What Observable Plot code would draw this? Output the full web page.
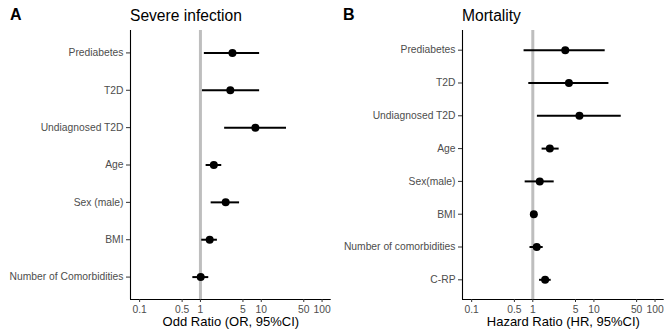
<!DOCTYPE html>
<html>
<head>
<meta charset="utf-8">
<script src="https://cdn.jsdelivr.net/npm/d3@7"></script>
<script src="https://cdn.jsdelivr.net/npm/@observablehq/plot@0.6"></script>
<style>
  body { margin: 0; background: #fff; font-family: "Liberation Sans", Arial, sans-serif; }
  #wrap { display: flex; width: 665px; height: 333px; }
  .panel { position: relative; }
  .hdr { position: relative; height: 30px; }
  .tag { position: absolute; font-weight: bold; font-size: 16px; line-height: 1; top: 7px; left: 10px; color: #000; }
  .ttl { position: absolute; font-size: 15.6px; line-height: 1; top: 7.7px; color: #000; }
  svg { display: block; }
</style>
</head>
<body>
<div id="wrap"></div>
<script>
// Panel A: Severe infection (odds ratios)
const labelsA = ["Prediabetes", "T2D", "Undiagnosed T2D", "Age", "Sex (male)", "BMI", "Number of Comorbidities"];
const estA = [3.36, 3.1, 8.0, 1.66, 2.6, 1.42, 1.01];
const loA  = [1.16, 1.08, 2.5, 1.24, 1.5, 1.05, 0.75];
const hiA  = [9.4, 9.4, 26, 2.24, 4.4, 1.9, 1.37];

// Panel B: Mortality (hazard ratios)
const labelsB = ["Prediabetes", "T2D", "Undiagnosed T2D", "Age", "Sex(male)", "BMI", "Number of comorbidities", "C-RP"];
const estB = [3.4, 3.9, 5.8, 1.9, 1.30, 1.04, 1.16, 1.59];
const loB  = [0.72, 0.86, 1.19, 1.42, 0.75, 0.99, 0.90, 1.29];
const hiB  = [15.3, 17.6, 28, 2.7, 2.24, 1.08, 1.48, 2.0];

const xTicks = [0.1, 0.5, 1, 5, 10, 50, 100];
const xTickLabels = ["0.1", "0.5", "1", "5", "10", "50", "100"];

function panel({tag, title, labels, est, lo, hi, xlabel, width, marginLeft, marginRight}) {
  const rows = labels.map((label, i) => ({idx: i + 1, label, est: est[i], lo: lo[i], hi: hi[i]}));
  const n = labels.length;
  const xDomain = [Math.pow(10, -1.15), Math.pow(10, 2.15)];
  const yDomain = [n + 0.6, 0.4];
  const div = document.createElement("div");
  div.className = "panel";
  div.style.width = width + "px";
  const hdr = document.createElement("div");
  hdr.className = "hdr";
  hdr.innerHTML = `<span class="tag">${tag}</span><span class="ttl" style="left:${marginLeft}px">${title}</span>`;
  div.appendChild(hdr);
  const chart = Plot.plot({
    width, height: 303,
    marginLeft, marginRight, marginTop: 0, marginBottom: 34,
    style: {fontFamily: "Liberation Sans, Arial, sans-serif", fontSize: "10.3px", background: "#fff"},
    x: {type: "log", domain: xDomain, label: null, axis: null},
    y: {type: "linear", domain: yDomain, label: null},
    marks: [
      Plot.ruleX([1], {stroke: "#bebebe", strokeWidth: 3}),
      Plot.ruleY(rows, {y: "idx", x1: "lo", x2: "hi", stroke: "#000", strokeWidth: 2}),
      Plot.dot(rows, {x: "est", y: "idx", r: 4, fill: "#000", stroke: null}),
      Plot.ruleX([xDomain[0]], {stroke: "#000", strokeWidth: 1.1}),
      Plot.ruleY([yDomain[0]], {stroke: "#000", strokeWidth: 1.1}),
      Plot.ruleX(xTicks, {x: d => d, y1: yDomain[0], y2: yDomain[0], insetBottom: -3, stroke: "#333", strokeWidth: 1}),
      Plot.text(xTicks, {x: d => d, frameAnchor: "bottom", text: (d, i) => xTickLabels[i],
                         dy: 10, fill: "#4d4d4d", fontSize: 10.3, lineAnchor: "middle"}),
      Plot.axisY({ticks: rows.map(d => d.idx), tickFormat: i => labels[i - 1], tickSize: 4, tickPadding: 3,
                  stroke: "#333", color: "#4d4d4d", fontSize: 10.3, label: null}),
      Plot.text([xlabel], {frameAnchor: "bottom", dy: 26.5, text: d => d, fontSize: 13, fill: "#000"})
    ]
  });
  div.appendChild(chart);
  return div;
}

const wrap = document.getElementById("wrap");
wrap.appendChild(panel({tag: "A", title: "Severe infection", labels: labelsA, est: estA, lo: loA, hi: hiA,
  xlabel: "Odd Ratio (OR, 95%CI)", width: 333, marginLeft: 130, marginRight: 2.3}));
wrap.appendChild(panel({tag: "B", title: "Mortality", labels: labelsB, est: estB, lo: loB, hi: hiB,
  xlabel: "Hazard Ratio (HR, 95%CI)", width: 332, marginLeft: 129, marginRight: 1.3}));
</script>
</body>
</html>
